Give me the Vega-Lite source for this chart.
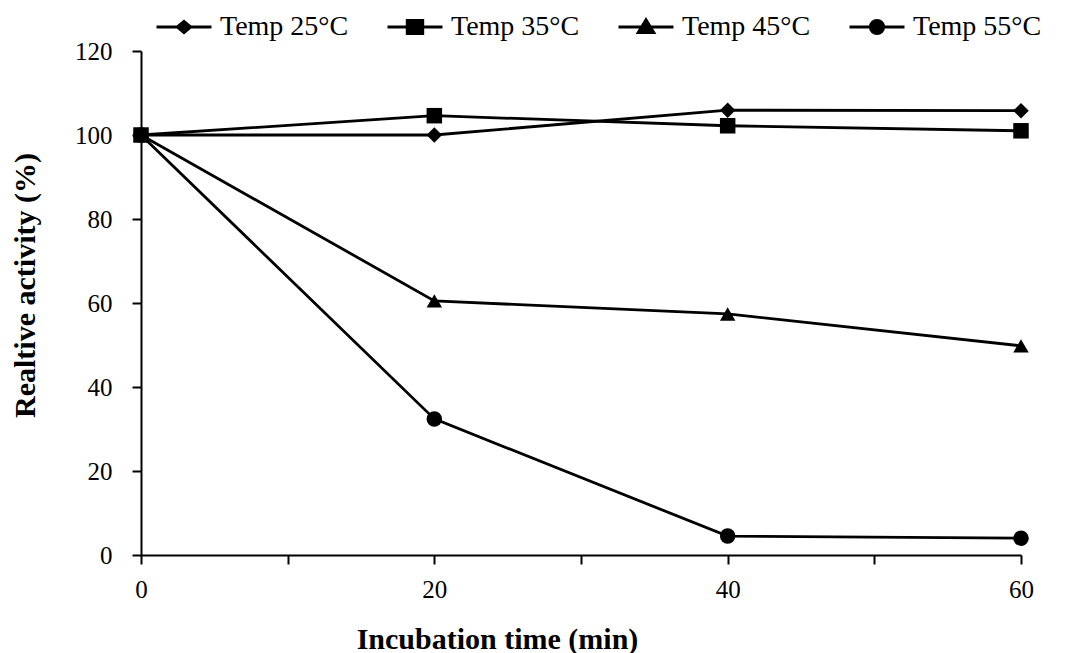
{
  "$schema": "https://vega.github.io/schema/vega-lite/v6.json",
  "width": 880,
  "height": 504,
  "autosize": {"type": "none"},
  "padding": {"left": 141, "top": 51, "right": 47, "bottom": 98},
  "background": "white",
  "config": {"view": {"stroke": null}, "font": "Liberation Serif"},
  "data": {
    "values": [
      {"series": "Temp 25°C", "time": 0, "activity": 100},
      {"series": "Temp 25°C", "time": 20, "activity": 100},
      {"series": "Temp 25°C", "time": 40, "activity": 105.9},
      {"series": "Temp 25°C", "time": 60, "activity": 105.8},
      {"series": "Temp 35°C", "time": 0, "activity": 100},
      {"series": "Temp 35°C", "time": 20, "activity": 104.6},
      {"series": "Temp 35°C", "time": 40, "activity": 102.2},
      {"series": "Temp 35°C", "time": 60, "activity": 101.0},
      {"series": "Temp 45°C", "time": 0, "activity": 100},
      {"series": "Temp 45°C", "time": 20, "activity": 60.5},
      {"series": "Temp 45°C", "time": 40, "activity": 57.4},
      {"series": "Temp 45°C", "time": 60, "activity": 49.8},
      {"series": "Temp 55°C", "time": 0, "activity": 100},
      {"series": "Temp 55°C", "time": 20, "activity": 32.4},
      {"series": "Temp 55°C", "time": 40, "activity": 4.5},
      {"series": "Temp 55°C", "time": 60, "activity": 4.0}
    ]
  },
  "encoding": {
    "x": {
      "field": "time",
      "type": "quantitative",
      "scale": {"domain": [0, 60], "nice": false},
      "axis": {
        "title": "Incubation time (min)",
        "values": [0, 10, 20, 30, 40, 50, 60],
        "labelExpr": "datum.value % 20 === 0 ? datum.label : ''",
        "grid": false,
        "domainColor": "black",
        "domainWidth": 2,
        "tickColor": "black",
        "tickWidth": 2,
        "tickSize": 9,
        "labelFont": "Liberation Serif",
        "labelFontSize": 25,
        "labelColor": "black",
        "labelPadding": 13,
        "labelFlush": false,
        "titleFont": "Liberation Serif",
        "titleFontSize": 30,
        "titleFontWeight": "bold",
        "titleColor": "black",
        "titlePadding": 22,
        "titleX": 356,
        "titleAlign": "center"
      }
    },
    "y": {
      "field": "activity",
      "type": "quantitative",
      "scale": {"domain": [0, 120], "nice": false},
      "axis": {
        "title": "Realtive activity (%)",
        "values": [0, 20, 40, 60, 80, 100, 120],
        "grid": false,
        "domainColor": "black",
        "domainWidth": 2,
        "tickColor": "black",
        "tickWidth": 2,
        "tickSize": 9,
        "labelFont": "Liberation Serif",
        "labelFontSize": 25,
        "labelColor": "black",
        "labelPadding": 20,
        "labelFlush": false,
        "titleFont": "Liberation Serif",
        "titleFontSize": 30,
        "titleFontWeight": "bold",
        "titleColor": "black",
        "titlePadding": 34,
        "titleY": 234,
        "titleAlign": "center"
      }
    }
  },
  "resolve": {"scale": {"shape": "independent"}},
  "layer": [
    {
      "mark": {"type": "line", "color": "black", "strokeWidth": 2.8},
      "encoding": {"detail": {"field": "series", "type": "nominal"}}
    },
    {
      "mark": {"type": "point", "filled": true, "color": "black", "opacity": 1, "size": 240},
      "encoding": {
        "shape": {
          "field": "series",
          "type": "nominal",
          "scale": {
            "domain": ["Temp 25°C", "Temp 35°C", "Temp 45°C", "Temp 55°C"],
            "range": ["diamond", "square", "triangle-up", "circle"]
          },
          "legend": null
        }
      }
    },
    {
      "mark": {"type": "point", "filled": true, "color": "black", "opacity": 0, "size": 10},
      "encoding": {
        "shape": {
          "field": "series",
          "type": "nominal",
          "scale": {
            "domain": ["Temp 25°C", "Temp 35°C", "Temp 45°C", "Temp 55°C"],
            "range": [
              "M-1,0H1M-0.24,0L0,-0.2L0.24,0L0,0.2Z",
              "M-1,0H1M-0.28,-0.24H0.28V0.24H-0.28Z",
              "M-1,0H1M-0.28,0.2L0,-0.26L0.28,0.2Z",
              "M-1,0H1M-0.24,0A0.24,0.24,0,1,0,0.24,0A0.24,0.24,0,1,0,-0.24,0Z"
            ]
          },
          "legend": {
            "orient": "none",
            "legendX": 14,
            "legendY": -53,
            "direction": "horizontal",
            "title": null,
            "symbolSize": 3025,
            "symbolOpacity": 1,
            "symbolStrokeColor": "black",
            "symbolFillColor": "black",
            "symbolStrokeWidth": 3,
            "labelFont": "Liberation Serif",
            "labelFontSize": 28,
            "labelColor": "black",
            "labelOffset": 7,
            "labelLimit": 400,
            "columnPadding": 32,
            "padding": 0,
            "encoding": {
              "symbols": {
                "stroke": {"value": "black"},
                "strokeWidth": {"value": 3},
                "fill": {"value": "black"},
                "opacity": {"value": 1},
                "size": {"value": 3025}
              }
            }
          }
        }
      }
    }
  ]
}
